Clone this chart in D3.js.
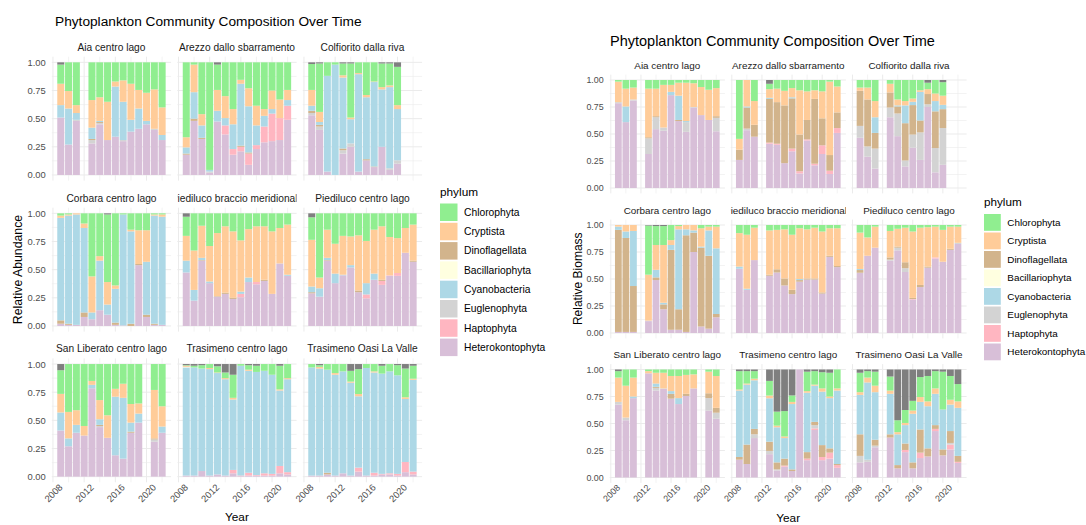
<!DOCTYPE html>
<html>
<head>
<meta charset="utf-8">
<script src="https://cdn.jsdelivr.net/npm/d3@7"></script>
<style>
  body { margin: 0; background: #fff; }
  svg { display: block; font-family: "Liberation Sans", Arial, sans-serif; }
</style>
</head>
<body>
<svg id="chart" width="1086" height="525"></svg>
<script>
// legend order
const phyla = ["Chlorophyta", "Cryptista", "Dinoflagellata", "Bacillariophyta",
  "Cyanobacteria", "Euglenophyta", "Haptophyta", "Heterokontophyta"];
// column order of the rows below (after the year)
const rowCols = ["Heterokontophyta", "Haptophyta", "Euglenophyta", "Cyanobacteria",
  "Bacillariophyta", "Dinoflagellata", "Cryptista", "Chlorophyta", "NA"];
// how the segments sit in each bar, bottom -> top
const stackKeys = ["Heterokontophyta", "Haptophyta", "Euglenophyta", "Dinoflagellata",
  "Cyanobacteria", "Bacillariophyta", "Cryptista", "Chlorophyta", "NA"];
const sites = ["Aia centro lago", "Arezzo dallo sbarramento", "Colfiorito dalla riva",
  "Corbara centro lago", "Piediluco braccio meridionale", "Piediluco centro lago",
  "San Liberato centro lago", "Trasimeno centro lago", "Trasimeno Oasi La Valle"];
const yearTicks = [2008, 2012, 2016, 2020];
const fracTicks = [0, 0.25, 0.5, 0.75, 1];

// ---- relative abundance ----
const abAia = [
  [2009,.51,0,0,.11,0,0,.19,.17,.02], [2010,.27,0,0,.32,0,0,.155,.255,0],
  [2011,.48,0,.01,.06,0,0,.07,.38,0], [2013,.28,0,.03,.10,0,.01,.245,.335,0],
  [2014,.45,0,.01,.01,0,.01,.21,.31,0], [2015,.31,0,0,0,0,0,.34,.35,0],
  [2016,.34,0,0,.445,0,0,.045,.17,0], [2017,.30,0,.01,.34,0,0,.19,.16,0],
  [2018,.385,0,0,.105,0,0,.32,.19,0], [2019,.41,0,0,.18,0,0,.165,.245,0],
  [2020,.45,0,0,.03,0,0,.25,.27,0], [2021,.40,0,.01,0,0,0,.35,.24,0],
  [2022,.31,0,0,.045,0,0,.245,.40,0]];
const abArezzo = [
  [2009,.18,0,0,.055,0,.01,.09,.665,0], [2010,.48,0,0,.235,0,.02,.245,.02,0],
  [2011,.32,0,0,.11,0,.01,.10,.46,0], [2012,.02,0,.01,.015,0,0,0,.955,0],
  [2013,.475,0,0,.095,0,0,.185,.225,.02], [2014,.36,.08,0,.065,0,0,.195,.30,0],
  [2015,.18,.05,0,.22,0,0,.135,.415,0], [2016,.21,.04,0,.55,0,.01,.035,.155,0],
  [2017,.09,.10,0,.41,0,.01,.16,.23,0], [2018,.23,.035,0,.175,0,0,.175,.385,0],
  [2019,.29,.14,0,.095,0,0,.06,.415,0], [2020,.30,.245,0,.04,0,0,.165,.25,0],
  [2021,.31,.195,0,0,0,0,.165,.33,0], [2022,.49,.125,0,.05,0,0,.09,.245,0]];
const abColf = [
  [2009,.53,0,.02,.045,0,.02,.14,.23,.015], [2010,.40,0,.03,.025,0,.015,.09,.43,.01],
  [2011,.03,0,0,.85,0,0,0,.12,0], [2012,0,0,0,.98,0,0,0,.02,0],
  [2013,.19,0,.03,.63,0,.015,.02,.105,.01], [2014,.25,0,.03,.215,0,0,.015,.48,.01],
  [2015,.03,0,0,.865,0,0,.01,.095,0], [2016,.13,0,0,.55,0,.01,.02,.29,0],
  [2017,.07,0,0,.75,0,.005,.005,.17,0], [2018,.25,0,0,.51,0,0,.02,.21,.01],
  [2019,.045,0,.015,.72,0,0,.015,.195,.01], [2020,.10,0,.03,.455,0,0,.035,.34,.04]];
const abCorbara = [
  [2009,.02,0,0,.91,0,.03,.02,.02,0], [2010,.01,0,0,.96,0,.01,.01,.01,0],
  [2011,.01,0,0,.98,0,0,.01,0,0], [2012,.08,0,0,.75,0,.04,.04,.09,0],
  [2013,.06,0,0,.06,0,0,.32,.56,0], [2014,.14,0,0,.44,0,0,.04,.38,0],
  [2015,.10,0,0,.09,0,0,.20,.60,.01], [2016,.01,0,0,.30,0,.02,.03,.64,0],
  [2017,.005,0,0,.985,0,0,0,.01,0], [2018,0,0,0,.82,0,.02,.015,.145,0],
  [2019,.54,0,0,0,0,.01,.30,.15,0], [2020,.08,0,0,.47,0,.02,.28,.15,0],
  [2021,.01,0,0,.96,0,.01,.01,.01,0], [2022,.01,0,0,.96,0,0,.02,.01,0]];
const abPbm = [
  [2009,.475,0,0,.105,0,0,.22,.17,.03], [2010,.225,0,0,.095,0,0,.35,.33,0],
  [2011,.58,0,0,.02,0,.005,.285,.11,0], [2012,.38,0,0,.015,0,0,.315,.29,0],
  [2013,.26,0,0,0,0,.005,.56,.175,0], [2014,.285,0,0,0,0,.01,.59,.115,0],
  [2015,.24,0,0,0,0,.01,.59,.16,0], [2016,.255,.03,0,.02,0,0,.455,.24,0],
  [2017,.39,0,0,.04,0,0,.43,.14,0], [2018,.37,.02,0,0,0,0,.495,.115,0],
  [2019,.40,0,0,0,0,.01,.475,.115,0], [2020,.285,0,0,0,0,0,.555,.16,0],
  [2021,.555,0,0,0,0,0,.315,.13,0], [2022,.445,0,0,.01,0,0,.445,.10,0]];
const abPcl = [
  [2009,.29,0,0,.05,0,.01,.415,.20,.035], [2010,.26,0,0,.075,0,0,.095,.57,0],
  [2011,.58,0,0,.02,0,.005,.25,.145,0], [2012,.38,0,0,.085,0,0,.265,.27,0],
  [2013,.45,0,0,.005,0,0,.345,.20,0], [2014,.52,0,0,.02,0,0,.255,.205,0],
  [2015,.30,0,0,0,0,.015,.49,.195,0], [2016,.245,.035,0,.10,0,0,.375,.245,0],
  [2017,.41,0,0,.055,0,0,.39,.145,0], [2018,.365,.035,0,0,0,.01,.475,.115,0],
  [2019,.445,.005,0,0,0,0,.34,.21,0], [2020,.445,.025,0,0,0,0,.31,.22,0],
  [2021,.65,0,0,0,0,0,.22,.13,0], [2022,.57,0,0,0,0,.01,.32,.10,0]];
const abSanLib = [
  [2009,.41,0,0,.16,0,0,.165,.21,.055], [2010,.27,0,0,.07,0,0,.235,.425,0],
  [2011,.39,0,0,.07,0,0,.13,.41,0], [2012,.365,0,0,0,0,0,.085,.55,0],
  [2013,.785,0,0,.03,0,0,.035,.15,0], [2014,.44,0,.01,.05,0,.01,.17,.32,0],
  [2015,.345,0,0,0,0,0,.20,.455,0], [2016,.19,0,0,.52,0,0,.07,.22,0],
  [2017,.16,0,0,.54,0,0,.125,.175,0], [2018,.39,0,0,.08,0,.01,.165,.355,0],
  [2019,.48,0,0,.08,0,0,.09,.35,0], [2021,.31,0,.02,0,0,.01,.43,.23,0],
  [2022,.39,0,0,.055,0,0,.18,.375,0]];
const abTcl = [
  [2009,.01,0,0,.96,.005,0,.01,.005,.01], [2010,.01,0,0,.96,0,0,0,.015,.015],
  [2011,.05,0,0,.91,0,0,0,.03,.01], [2012,.01,0,0,.945,0,0,.01,.035,0],
  [2013,.02,0,0,.90,0,0,.005,.055,.02], [2014,.01,0,0,.855,0,0,.01,.05,.075],
  [2015,.03,.03,0,.625,0,0,.015,.205,.095], [2016,.005,.005,0,.975,0,0,0,.015,0],
  [2017,.01,.025,0,.905,0,0,.01,.04,.01], [2018,.01,.005,0,.915,0,0,0,.055,.015],
  [2019,.01,.02,0,.91,0,0,0,.06,0], [2020,.01,.015,0,.88,0,0,0,.095,0],
  [2021,.03,.065,0,.67,0,0,.01,.21,.015], [2022,.02,.02,0,.825,0,0,.01,.125,0]];
const abToasi = [
  [2009,.01,0,0,.96,0,0,0,.03,0], [2010,.01,0,0,.95,0,0,.015,.015,.01],
  [2011,.02,0,0,.915,0,.015,0,.05,0], [2012,.01,0,0,.895,0,0,.015,.08,0],
  [2013,.03,0,0,.905,0,0,0,.065,0], [2014,.01,0,0,.82,0,0,.01,.095,.06],
  [2015,.045,.035,0,.63,0,0,.02,.22,.045], [2016,.01,0,0,.955,0,0,0,.035,0],
  [2017,.01,.025,0,.89,0,0,.01,.065,0], [2018,.02,.005,0,.89,0,0,0,.07,.015],
  [2019,.02,.01,0,.905,0,0,0,.065,0], [2020,.01,.015,0,.875,0,0,0,.09,.01],
  [2021,.04,.09,0,.56,0,0,.015,.255,.04], [2022,.02,.025,0,.815,0,0,.01,.115,.015]];

// ---- relative biomass ----
const bmAia = [
  [2009,.785,0,.01,0,0,0,.19,.015,0], [2010,.61,0,0,.145,0,0,.165,.08,0],
  [2011,.81,0,.01,0,0,0,.11,.07,0], [2013,.315,0,.145,0,0,.01,.45,.08,0],
  [2014,.545,0,.11,0,0,.01,.255,.08,0], [2015,.53,0,.03,0,0,0,.395,.045,0],
  [2016,.86,0,0,.03,0,0,.065,.045,0], [2017,.62,0,0,.225,0,.01,.12,.025,0],
  [2018,.52,0,.09,.01,0,0,.355,.025,0], [2019,.745,0,.005,0,0,0,.22,.03,0],
  [2020,.675,0,0,0,0,0,.26,.065,0], [2021,.63,0,0,0,0,0,.28,.09,0],
  [2022,.525,0,.125,0,0,.015,.26,.075,0]];
const bmArezzo = [
  [2009,.26,0,0,0,0,.095,.10,.545,0], [2010,.535,0,.015,.01,0,.195,.245,0,0],
  [2011,.475,0,0,0,0,.11,.22,.195,0], [2013,.41,.01,0,.01,0,.405,.08,.05,.035],
  [2014,.40,.01,0,0,0,.385,.125,.08,0], [2015,.23,0,0,0,0,.535,.135,.10,0],
  [2016,.34,.025,0,.01,0,.465,.085,.075,0], [2017,.135,.02,0,0,0,.34,.41,.095,0],
  [2018,.44,.01,0,0,0,.18,.265,.105,0], [2019,.21,.015,0,0,0,.60,.08,.095,0],
  [2020,.315,.08,0,0,0,.25,.25,.105,0], [2021,.13,.03,0,0,0,.145,.68,.015,0],
  [2022,.51,.045,0,0,0,.145,.24,.06,0]];
const bmColf = [
  [2009,.465,0,.11,0,0,.325,.03,.07,0], [2010,.29,0,.095,0,0,.435,.11,.07,0],
  [2011,.18,0,.185,.145,0,.145,.15,.195,0], [2013,.655,0,.09,0,0,.14,.08,.035,0],
  [2014,.48,0,.21,.01,0,.065,.055,.18,0], [2015,.20,0,.055,.165,0,.345,.04,.195,0],
  [2016,.37,0,.12,.03,0,.27,.03,.17,0], [2017,.26,0,.255,.265,0,.11,.015,.095,0],
  [2018,.75,0,.025,0,0,.095,.045,.06,.025], [2019,.145,0,.225,.095,0,.34,.07,.125,0],
  [2020,.215,0,.34,.04,0,.175,.085,.125,.02]];
const bmCorbara = [
  [2009,.01,0,0,.03,0,.945,.015,0,0], [2010,.01,0,0,.06,0,.87,.06,0,0],
  [2011,.01,0,0,.51,0,.425,.055,0,0], [2013,.11,0,.005,0,0,0,.425,.455,.005],
  [2014,.49,0,0,.07,0,.025,.23,.175,.01], [2015,.22,0,0,.015,0,.045,.535,.175,.01],
  [2016,.03,0,0,.045,0,.74,.045,.14,0], [2017,.03,0,0,.74,0,.19,.03,.01,0],
  [2018,.01,0,0,.055,0,.895,.04,0,0], [2019,.75,0,0,.02,0,.18,.05,0,0],
  [2020,.06,0,0,.01,0,.73,.17,.03,0], [2021,.04,0,0,.235,0,.675,.035,.015,0],
  [2022,.145,0,0,.605,0,.03,.20,.015,0]];
const bmPbm = [
  [2009,.595,0,0,.02,0,0,.31,.075,0], [2010,.40,0,0,.01,0,0,.50,.09,0],
  [2011,.675,0,0,0,0,0,.30,.025,0], [2013,.53,0,0,0,0,.01,.41,.05,0],
  [2014,.56,0,0,0,0,.03,.365,.045,0], [2015,.44,0,0,0,0,.065,.455,.04,0],
  [2016,.36,0,0,0,0,.04,.51,.09,0], [2017,.475,0,0,.01,0,.015,.47,.03,0],
  [2018,.495,0,0,0,0,.01,.455,.04,0], [2019,.495,0,0,0,0,.01,.47,.025,0],
  [2020,.365,0,0,0,0,.01,.565,.06,0], [2021,.705,0,0,0,0,.01,.255,.03,0],
  [2022,.61,0,0,0,0,.01,.35,.03,0]];
const bmPcl = [
  [2009,.555,0,0,.01,0,.025,.335,.07,0], [2010,.715,0,0,0,0,0,.17,.115,0],
  [2011,.79,0,0,0,0,0,.195,.015,0], [2013,.67,0,.01,0,0,.02,.245,.055,0],
  [2014,.765,0,.025,0,0,.01,.165,.035,0], [2015,.565,0,.035,0,0,.055,.32,.025,0],
  [2016,.31,.005,0,0,0,.01,.615,.06,0], [2017,.425,0,0,0,0,.02,.53,.025,0],
  [2018,.605,0,0,0,0,.01,.365,.02,0], [2019,.69,.01,0,0,0,0,.285,.015,0],
  [2020,.66,0,0,0,0,0,.295,.045,0], [2021,.77,0,0,0,0,.01,.205,.015,0],
  [2022,.825,0,.01,0,0,0,.15,.015,0]];
const bmSanLib = [
  [2009,.675,0,.025,0,0,0,.225,.06,.015], [2010,.53,0,.025,0,0,0,.295,.15,0],
  [2011,.735,0,0,.015,0,0,.175,.075,0], [2013,.965,0,0,0,0,0,.02,.015,0],
  [2014,.805,0,.025,.03,0,.01,.10,.03,0], [2015,.82,0,.005,0,0,0,.145,.03,0],
  [2016,.73,0,0,.025,0,.045,.14,.06,0], [2017,.68,0,0,.055,0,0,.205,.06,0],
  [2018,.755,0,0,0,0,.02,.175,.05,0], [2019,.825,0,0,0,0,0,.13,.045,0],
  [2021,.62,0,.115,0,0,.045,.20,.02,0], [2022,.545,0,.055,0,0,.045,.295,.06,0]];
const bmTcl = [
  [2009,.165,0,0,.615,0,.025,.01,.17,.015], [2010,.125,0,0,.555,0,.18,.01,.115,.015],
  [2011,.365,0,.035,.45,0,.05,.015,.07,.015], [2013,.215,0,.03,.40,0,.085,.025,.135,.105],
  [2014,.065,0,.01,.325,0,.065,.015,.13,.39], [2015,.10,.01,0,.19,0,.065,.015,.235,.385],
  [2016,.06,0,0,.605,0,.015,.02,.06,.24], [2017,1,0,0,0,0,0,0,0,0],
  [2018,.16,.015,0,.55,0,.06,.015,.18,.02], [2019,.44,.015,.03,.335,0,.03,.01,.125,.015],
  [2020,.16,.03,0,.495,0,.11,.03,.15,.025], [2021,.175,.055,0,.465,0,.04,.015,.22,.03],
  [2022,.09,.025,0,.68,0,.01,.02,.175,0]];
const bmToasi = [
  [2009,.14,0,.06,.365,0,.20,.025,.18,.03], [2010,.145,0,.02,.715,0,0,.045,.06,.015],
  [2011,.28,0,.015,.44,0,.055,.06,.13,.02], [2013,.37,0,0,.375,0,.03,.03,.13,.065],
  [2014,.085,0,0,.285,0,.03,.02,.11,.47], [2015,.235,.02,0,.17,0,.06,.02,.12,.375],
  [2016,.085,0,0,.45,0,.055,.03,.09,.29], [2017,.18,.05,0,.255,0,.215,.045,.185,.07],
  [2018,.195,0,0,.39,0,.075,.045,.235,.06], [2019,.43,.02,0,.29,0,.035,.05,.16,.015],
  [2020,.205,0,0,.37,0,.055,0,.35,.02], [2021,.26,.045,.015,.245,0,.11,.045,.22,.06],
  [2022,.135,.01,0,.445,0,.055,.06,.16,.135]];

const color = d3.scaleOrdinal()
  .domain([...phyla, "NA"])
  .range(["#90EE90", "#FFCC99", "#D2B48C", "#FFFFE0", "#ADD8E6", "#D3D3D3", "#FFB6C1", "#D8BFD8", "#7F7F7F"]);

const svg = d3.select("#chart");
svg.append("rect").attr("width", 1086).attr("height", 525).attr("fill", "#fff");

const charts = [
  {
    id: "ab", data: [abAia, abArezzo, abColf, abCorbara, abPbm, abPcl, abSanLib, abTcl, abToasi],
    title: "Phytoplankton Community Composition Over Time", titleX: 55, titleY: 26, titleFs: 13.7,
    yTitle: "Relative Abundance", yTitleX: 18, yTitleFs: 12.3,
    colX: [51.8, 177.3, 302.8], panelW: 119.3, rowY: [56.7, 207.7, 358.4], panelH: 123.9,
    tickFs: 9.4, stripFs: 10.2, xTitleY: 521,
    legX: 440, legY: 203.5, key: 17.5, step: 19.3, legFs: 10.3, legTitleFs: 11.8
  },
  {
    id: "bm", data: [bmAia, bmArezzo, bmColf, bmCorbara, bmPbm, bmPcl, bmSanLib, bmTcl, bmToasi],
    title: "Phytoplankton Community Composition Over Time", titleX: 610, titleY: 46, titleFs: 14.5,
    yTitle: "Relative Biomass", yTitleX: 578, yTitleFs: 12,
    colX: [609.7, 730.7, 851.4], panelW: 115.2, rowY: [74.6, 219.6, 364.1], panelH: 118.8,
    tickFs: 8.9, stripFs: 9.9, xTitleY: 522,
    legX: 984, legY: 214, key: 16.8, step: 18.5, legFs: 9.9, legTitleFs: 11.7
  }
];

function drawChart(cfg) {
  const g = svg.append("g");
  g.append("text")
    .attr("x", cfg.titleX).attr("y", cfg.titleY)
    .style("font-size", cfg.titleFs + "px").attr("fill", "#000")
    .text(cfg.title);

  cfg.data.forEach((rows, i) => {
    const col = i % 3, row = Math.floor(i / 3);
    const x0 = cfg.colX[col], y0 = cfg.rowY[row];
    const x = d3.scaleLinear().domain([2007.85, 2023.15]).range([x0, x0 + cfg.panelW]);
    const y = d3.scaleLinear().domain([-0.05, 1.05]).range([y0 + cfg.panelH, y0]);
    const panel = g.append("g");

    // grid
    panel.selectAll("line.vg").data(d3.range(2008, 2023, 2)).enter().append("line")
      .attr("x1", d => x(d)).attr("x2", d => x(d))
      .attr("y1", y0).attr("y2", y0 + cfg.panelH)
      .attr("stroke", "#EBEBEB").attr("stroke-width", d => yearTicks.includes(d) ? 1 : 0.6);
    panel.selectAll("line.hg").data(d3.range(0, 1.01, 0.125)).enter().append("line")
      .attr("x1", x0).attr("x2", x0 + cfg.panelW)
      .attr("y1", d => y(d)).attr("y2", d => y(d))
      .attr("stroke", "#EBEBEB").attr("stroke-width", (d, j) => j % 2 ? 0.6 : 1);

    // stacked bars (position = fill)
    const table = rows.map(r => {
      const o = { year: r[0] };
      rowCols.forEach((k, j) => { o[k] = r[j + 1]; });
      return o;
    });
    const series = d3.stack().keys(stackKeys).offset(d3.stackOffsetExpand)(table);
    panel.selectAll("g.s").data(series).enter().append("g")
      .attr("fill", s => color(s.key))
      .selectAll("rect").data(s => s).enter().append("rect")
      .attr("x", d => x(d.data.year - 0.45))
      .attr("width", d => x(d.data.year + 0.45) - x(d.data.year - 0.45))
      .attr("y", d => y(d[1]))
      .attr("height", d => Math.max(0, y(d[0]) - y(d[1])));

    // strip label
    const clipId = cfg.id + "-strip-" + i;
    g.append("clipPath").attr("id", clipId).append("rect")
      .attr("x", x0).attr("y", y0 - 20).attr("width", cfg.panelW).attr("height", 20);
    g.append("text")
      .attr("clip-path", `url(#${clipId})`)
      .attr("x", x0 + cfg.panelW / 2).attr("y", y0 - 6)
      .attr("text-anchor", "middle")
      .style("font-size", cfg.stripFs + "px").attr("fill", "#1A1A1A")
      .text(sites[i]);

    if (col === 0) {
      const ax = panel.append("g")
        .attr("transform", `translate(${x0 - 4},0)`)
        .call(d3.axisLeft(y).tickValues(fracTicks).tickFormat(d3.format(".2f")).tickSize(0).tickPadding(2));
      ax.select(".domain").remove();
      ax.attr("font-family", null);
      ax.selectAll("text").style("font-size", cfg.tickFs + "px").attr("fill", "#4D4D4D");
    }
    if (row === 2) {
      const ax = panel.append("g")
        .attr("transform", `translate(0,${y0 + cfg.panelH})`)
        .call(d3.axisBottom(x).tickValues(yearTicks).tickFormat(d3.format("d")).tickSize(0));
      ax.select(".domain").remove();
      ax.attr("font-family", null);
      ax.selectAll("text")
        .attr("y", 0).attr("dy", "0.7em")
        .attr("text-anchor", "end")
        .attr("transform", "translate(5,1) rotate(-45)")
        .style("font-size", cfg.tickFs + "px").attr("fill", "#4D4D4D");
    }
  });

  // axis titles
  const xMid = (cfg.colX[0] + cfg.colX[2] + cfg.panelW) / 2;
  g.append("text").attr("x", xMid).attr("y", cfg.xTitleY)
    .attr("text-anchor", "middle").style("font-size", "11.8px").attr("fill", "#000")
    .text("Year");
  const yMid = (cfg.rowY[0] + cfg.rowY[2] + cfg.panelH) / 2;
  g.append("text")
    .attr("transform", `translate(${cfg.yTitleX},${yMid}) rotate(-90)`)
    .attr("text-anchor", "middle").attr("dy", "0.35em")
    .style("font-size", cfg.yTitleFs + "px").attr("fill", "#000")
    .text(cfg.yTitle);

  // legend
  const lg = g.append("g").attr("transform", `translate(${cfg.legX},${cfg.legY})`);
  lg.append("text").attr("x", 0).attr("y", -8)
    .style("font-size", cfg.legTitleFs + "px").attr("fill", "#000").text("phylum");
  lg.selectAll("rect").data(phyla).enter().append("rect")
    .attr("x", 0).attr("y", (d, j) => j * cfg.step)
    .attr("width", cfg.key).attr("height", cfg.key)
    .attr("fill", d => color(d));
  lg.selectAll("text.lab").data(phyla).enter().append("text")
    .attr("class", "lab")
    .attr("x", cfg.key + 6.5).attr("y", (d, j) => j * cfg.step + cfg.key / 2)
    .attr("dy", "0.35em")
    .style("font-size", cfg.legFs + "px").attr("fill", "#000")
    .text(d => d);
}

charts.forEach(drawChart);
</script>
</body>
</html>
